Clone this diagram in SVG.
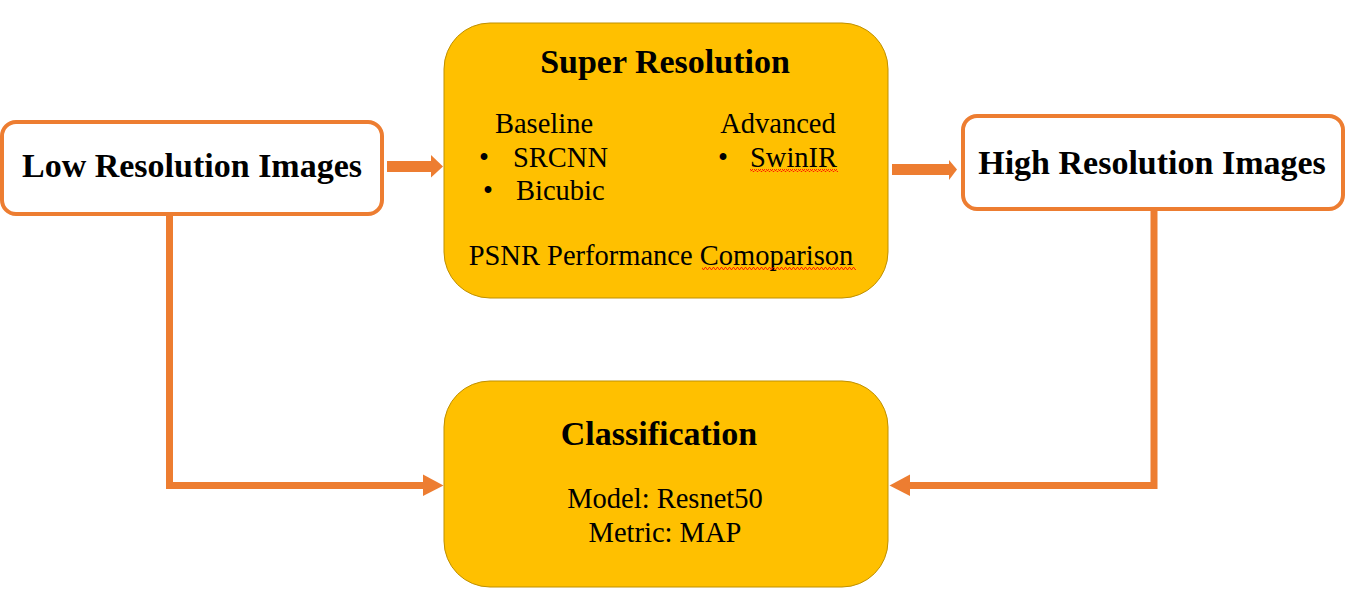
<svg xmlns="http://www.w3.org/2000/svg" width="1351" height="607" viewBox="0 0 1351 607">
<style>
.wbox{fill:#FFFFFF;stroke:#ED7D31;stroke-width:4}
.ybox{fill:#FFC000;stroke:#BF9000;stroke-width:1}
.bold{font-family:"Liberation Serif","Times New Roman",serif;font-weight:bold;font-size:34px;fill:#000}
.reg{font-family:"Liberation Serif","Times New Roman",serif;font-size:28.5px;fill:#000}
.conn{fill:none;stroke:#ED7D31;stroke-width:7}
.head{fill:#ED7D31}
.wave{fill:url(#wave)}
</style>
<defs>
<pattern id="wave" x="0" y="0" width="4" height="3" patternUnits="userSpaceOnUse">
<path d="M0,2.5 L1,0.5 L2,0.5 L3,2.5 L4,2.5" fill="none" stroke="#FF0000" stroke-width="0.8"/>
</pattern>
</defs>
<rect width="1351" height="607" fill="#FFFFFF"/>
<g id="connectors">
<rect x="387" y="161" width="45" height="11" class="head"/>
<polygon points="431,155 443,166.5 431,177.5" class="head"/>
<rect x="892" y="164" width="58" height="11" class="head"/>
<polygon points="949,160 957,169.5 949,180" class="head"/>
<polyline points="169.5,214 169.5,485.5 424,485.5" class="conn"/>
<polygon points="423,474.5 443.5,485.5 423,496" class="head"/>
<polyline points="1154,209 1154,485.5 909,485.5" class="conn"/>
<polygon points="910,474.5 889.5,485.5 910,496" class="head"/>
</g>
<g id="low-res">
<rect x="2" y="122" width="380" height="92" rx="14" class="wbox"/>
<text x="192" y="177" text-anchor="middle" class="bold">Low Resolution Images</text>
</g>
<g id="high-res">
<rect x="963" y="116" width="380" height="93" rx="14" class="wbox"/>
<text x="1152" y="174" text-anchor="middle" class="bold">High Resolution Images</text>
</g>
<g id="super-resolution">
<rect x="444" y="23" width="444" height="275" rx="46" class="ybox"/>
<text x="665" y="73" text-anchor="middle" class="bold">Super Resolution</text>
<text x="544" y="133" text-anchor="middle" class="reg">Baseline</text>
<text x="479" y="167" class="reg">•</text>
<text x="513" y="167" class="reg">SRCNN</text>
<text x="483" y="200" class="reg">•</text>
<text x="516" y="200" class="reg">Bicubic</text>
<text x="778" y="133" text-anchor="middle" class="reg">Advanced</text>
<text x="718" y="167" class="reg">•</text>
<text x="750" y="167" class="reg">SwinIR</text>
<rect x="750" y="169" width="88" height="3" class="wave"/>
<text x="661" y="265" text-anchor="middle" class="reg">PSNR Performance Comoparison</text>
<rect x="702" y="267" width="154" height="3" class="wave"/>
</g>
<g id="classification">
<rect x="444" y="381" width="444" height="206" rx="46" class="ybox"/>
<text x="659" y="445" text-anchor="middle" class="bold">Classification</text>
<text x="665" y="508" text-anchor="middle" class="reg">Model: Resnet50</text>
<text x="665" y="542" text-anchor="middle" class="reg">Metric: MAP</text>
</g>
</svg>
